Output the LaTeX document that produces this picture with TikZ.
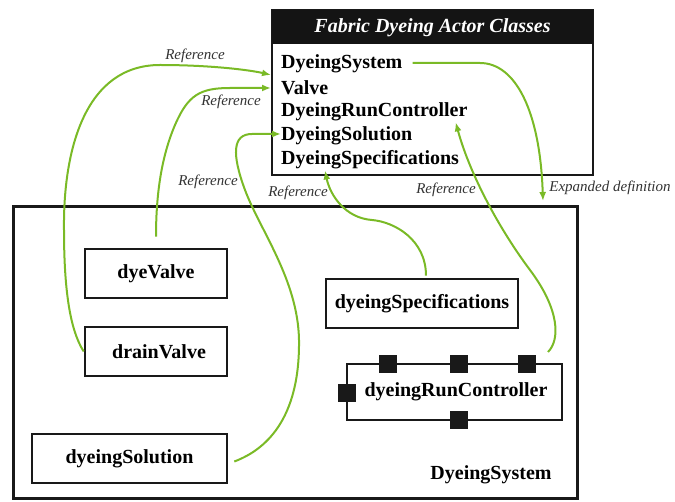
\documentclass[tikz,border=0pt]{standalone}
\usepackage{fontspec}
\setmainfont{Liberation Serif}
\usetikzlibrary{arrows.meta,calc}
\definecolor{refgreen}{RGB}{122,186,38}
\begin{document}
\begin{tikzpicture}[x=1pt,y=-1pt,
  part/.style={draw=black!90,line width=2.6pt,rectangle,inner sep=0pt,
    font=\fontsize{20}{24}\selectfont\bfseries},
  row/.style={anchor=west,inner sep=0pt,font=\fontsize{20}{24}\selectfont\bfseries},
  port/.style={fill=black!90,rectangle,minimum width=18pt,minimum height=18pt,inner sep=0pt},
  lbl/.style={inner sep=0pt,text=black!80,font=\fontsize{15}{18}\selectfont\itshape},
  link/.style={draw=refgreen,line width=2pt},
  linkarrow/.style={link,-{Latex[length=9pt,width=7pt]}}]
\useasboundingbox (0,0) rectangle (675,502);

% class list panel
\node[draw=black!90,line width=2pt,rectangle,minimum width=321pt,minimum height=165pt,inner sep=0pt]
  (classbox) at (432.5,92.5) {};
\node[fill=black!92,rectangle,minimum width=321pt,minimum height=34pt,inner sep=0pt,text=white,
  font=\fontsize{20}{24}\selectfont\bfseries\itshape] (title) at (432.5,27.5) {Fabric Dyeing Actor Classes};
\node[row] (rowSystem) at (281,64) {DyeingSystem};
\node[row] (rowValve) at (281,88) {Valve};
\node[row] (rowRun) at (281,112) {DyeingRunController};
\node[row] (rowSolution) at (281,136) {DyeingSolution};
\node[row] (rowSpec) at (281,160) {DyeingSpecifications};

% system composition
\node[draw=black!90,line width=3pt,rectangle,minimum width=564pt,minimum height=291pt] (sys) at (295,352.5) {};
\node[inner sep=0pt,font=\fontsize{20}{24}\selectfont\bfseries] (sysLabel) at (491,475) {DyeingSystem};
\node[part,minimum width=142pt,minimum height=49pt] (dyeValve) at (156,273.5) {\raisebox{-2pt}{dyeValve}};
\node[part,minimum width=142pt,minimum height=49pt] (drainValve) at (156,351.5) {\hspace{6pt}\raisebox{-2pt}{drainValve}};
\node[part,minimum width=195pt,minimum height=49pt] (solution) at (129.5,458.5) {\raisebox{-2pt}{dyeingSolution}};
\node[part,minimum width=192pt,minimum height=49pt] (specs) at (422,303.5) {\raisebox{-2pt}{dyeingSpecifications}};
\node[part,line width=2pt,minimum width=215pt,minimum height=56pt] (controller) at (454.5,392) {\hspace{3pt}\raisebox{-1pt}{dyeingRunController}};
\node[port] (portA) at (388,364) {};
\node[port] (portB) at (459,364) {};
\node[port] (portC) at (527,364) {};
\node[port] (portD) at (347,393) {};
\node[port] (portE) at (459,420) {};

% reference links
\draw[linkarrow] (drainValve.west) .. controls (70,330) and (64,290) .. (64,230)
  .. controls (63,150) and (85,65) .. (160,65)
  .. controls (210,65) and (250,70) .. ($(classbox.west |- rowSystem.west)+(0,11)$);
\node[lbl] (lblA) at (195,56) {Reference};

\draw[linkarrow] ($(dyeValve.north)+(0,-11)$) .. controls (156,200) and (160,160) .. (175,125)
  .. controls (188,95) and (200,88) .. (230,88) -- (classbox.west |- rowValve.west);
\node[lbl] (lblB) at (231,102) {Reference};

\draw[linkarrow] ($(solution.east)+(6,3)$) .. controls (265,450) and (300,420) .. (299,340)
  .. controls (298,280) and (260,230) .. (245,190)
  .. controls (232,155) and (232,134) .. (252,134) -- ($(rowSolution.west)+(0,-2)$);
\node[lbl] (lblC) at (208,182) {Reference};

\draw[linkarrow] ($(specs.north)+(4,-2)$) .. controls (426,240) and (395,222) .. (372,220)
  .. controls (345,218) and (330,195) .. ($(rowSpec.south west)+(44,1)$);
\node[lbl] (lblD) at (298,193) {Reference};

\draw[linkarrow] ($(controller.north east)+(-15,-11)$) .. controls (560,340) and (560,310) .. (530,270)
  .. controls (500,230) and (470,175) .. ($(rowRun.south east)+(-12,1)$);
\node[lbl] (lblE) at (446,190) {Reference};

% expanded definition
\coordinate (expandTip) at (543,201);
\draw[linkarrow] ($(rowSystem.east)+(10,-1)$) -- (480,63) .. controls (515,63) and (540,110) .. (expandTip);
\node[lbl] (lblF) at (610,188) {Expanded definition};
\end{tikzpicture}
\end{document}
